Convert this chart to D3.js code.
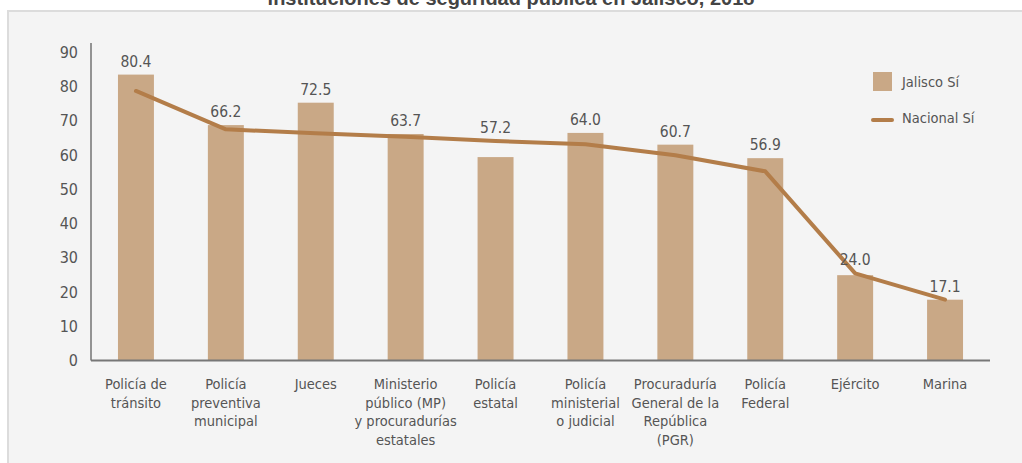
<!DOCTYPE html>
<html>
<head>
<meta charset="utf-8">
<script src="https://cdn.jsdelivr.net/npm/d3@7"></script>
<style>
  html, body { margin: 0; padding: 0; background: #ffffff; }
  body { width: 1022px; height: 463px; overflow: hidden; }
  text { font-family: "Liberation Sans Narrow", "DejaVu Sans Condensed", "Roboto", sans-serif; }
</style>
</head>
<body>
<svg id="chart" width="1022" height="463"></svg>
<script>
// categories (x axis), line breaks marked with |
const categories = [
  'Policía de|tránsito',
  'Policía|preventiva|municipal',
  'Jueces',
  'Ministerio|público (MP)|y procuradurías|estatales',
  'Policía|estatal',
  'Policía|ministerial|o judicial',
  'Procuraduría|General de la|República|(PGR)',
  'Policía|Federal',
  'Ejército',
  'Marina'
];

// Jalisco Sí (bars, labelled)
const jalisco = [80.4, 66.2, 72.5, 63.7, 57.2, 64.0, 60.7, 56.9, 24.0, 17.1];

// Nacional Sí (line)
const nacional = [75.8, 65.0, 63.9, 62.9, 61.7, 60.8, 57.7, 53.2, 24.5, 17.1];

// y axis tick labels
const yTicks = [0, 10, 20, 30, 40, 50, 60, 70, 80, 90];

const title = 'instituciones de seguridad pública en Jalisco, 2018';

const barColor = '#c9a886';
const lineColor = '#b37d49';
const textColor = '#555555';

const svg = d3.select('#chart');

// page title (runs off the top of the picture, as in the original)
svg.append('text')
  .attr('x', 511)
  .attr('y', 5)
  .attr('text-anchor', 'middle')
  .style('font-family', '"Liberation Sans", Arial, sans-serif')
  .style('font-weight', 'bold')
  .style('font-size', '20px')
  .attr('fill', '#444')
  .text(title);

// grey panel behind the chart
svg.append('rect')
  .attr('x', 8)
  .attr('y', 11)
  .attr('width', 1030)
  .attr('height', 470)
  .attr('fill', '#f4f4f4')
  .attr('stroke', '#dcdcdc')
  .attr('stroke-width', 2);

const margin = { left: 91, right: 990, top: 52.2, bottom: 360.5 };

// x band scale for categories
const x = d3.scaleBand()
  .domain(d3.range(categories.length))
  .range([margin.left, margin.right])
  .paddingInner(0.6)
  .paddingOuter(0.3);

// axis scale (ticks) and data scale (marks) - the original draws marks slightly taller than the ticks
const yAxisScale = d3.scaleLinear()
  .domain([0, 90])
  .range([margin.bottom, margin.top]);

const y = d3.scaleLinear()
  .domain([0, 86.7])
  .range([margin.bottom, margin.top]);

// y axis
const yAxis = svg.append('g')
  .attr('transform', `translate(${margin.left},0)`)
  .call(d3.axisLeft(yAxisScale).tickValues(yTicks).tickSize(0).tickPadding(13));

yAxis.select('.domain').remove();
yAxis.selectAll('text')
  .attr('fill', textColor)
  .style('font-size', '16px');

svg.append('line')
  .attr('x1', margin.left)
  .attr('x2', margin.left)
  .attr('y1', 43)
  .attr('y2', margin.bottom)
  .attr('stroke', '#333')
  .attr('stroke-width', 1);

// bars
svg.append('g')
  .selectAll('rect')
  .data(jalisco)
  .join('rect')
  .attr('x', (d, i) => x(i))
  .attr('y', d => y(d))
  .attr('width', x.bandwidth())
  .attr('height', d => y(0) - y(d))
  .attr('fill', barColor);

// x axis line
svg.append('line')
  .attr('x1', margin.left)
  .attr('x2', margin.right)
  .attr('y1', margin.bottom)
  .attr('y2', margin.bottom)
  .attr('stroke', '#777')
  .attr('stroke-width', 2);

// national line
const line = d3.line()
  .x((d, i) => x(i) + x.bandwidth() / 2)
  .y(d => y(d));

svg.append('path')
  .datum(nacional)
  .attr('d', line)
  .attr('fill', 'none')
  .attr('stroke', lineColor)
  .attr('stroke-width', 4)
  .attr('stroke-linejoin', 'round')
  .attr('stroke-linecap', 'round');

// value labels, sitting above bar or line, whichever is higher
svg.append('g')
  .selectAll('text')
  .data(jalisco)
  .join('text')
  .attr('x', (d, i) => x(i) + x.bandwidth() / 2)
  .attr('y', (d, i) => Math.min(y(d), y(nacional[i])) - 8)
  .attr('text-anchor', 'middle')
  .attr('fill', textColor)
  .style('font-size', '15.5px')
  .text(d => d.toFixed(1));

// category labels
const catLabels = svg.append('g')
  .selectAll('text')
  .data(categories)
  .join('text')
  .attr('x', (d, i) => x(i) + x.bandwidth() / 2)
  .attr('y', 389)
  .attr('text-anchor', 'middle')
  .attr('fill', textColor)
  .style('font-size', '14.5px');

catLabels.each(function (d) {
  const el = d3.select(this);
  d.split('|').forEach(function (part, j) {
    el.append('tspan')
      .attr('x', el.attr('x'))
      .attr('dy', j === 0 ? 0 : 18.5)
      .text(part);
  });
});

// legend
const legend = svg.append('g').attr('transform', 'translate(873,72)');

legend.append('rect')
  .attr('width', 19)
  .attr('height', 19)
  .attr('fill', barColor);

legend.append('text')
  .attr('x', 29)
  .attr('y', 15)
  .attr('fill', textColor)
  .style('font-size', '14.5px')
  .text('Jalisco Sí');

legend.append('line')
  .attr('x1', 0)
  .attr('x2', 19)
  .attr('y1', 48)
  .attr('y2', 48)
  .attr('stroke', lineColor)
  .attr('stroke-width', 4)
  .attr('stroke-linecap', 'round');

legend.append('text')
  .attr('x', 29)
  .attr('y', 51)
  .attr('fill', textColor)
  .style('font-size', '14.5px')
  .text('Nacional Sí');
</script>
</body>
</html>
